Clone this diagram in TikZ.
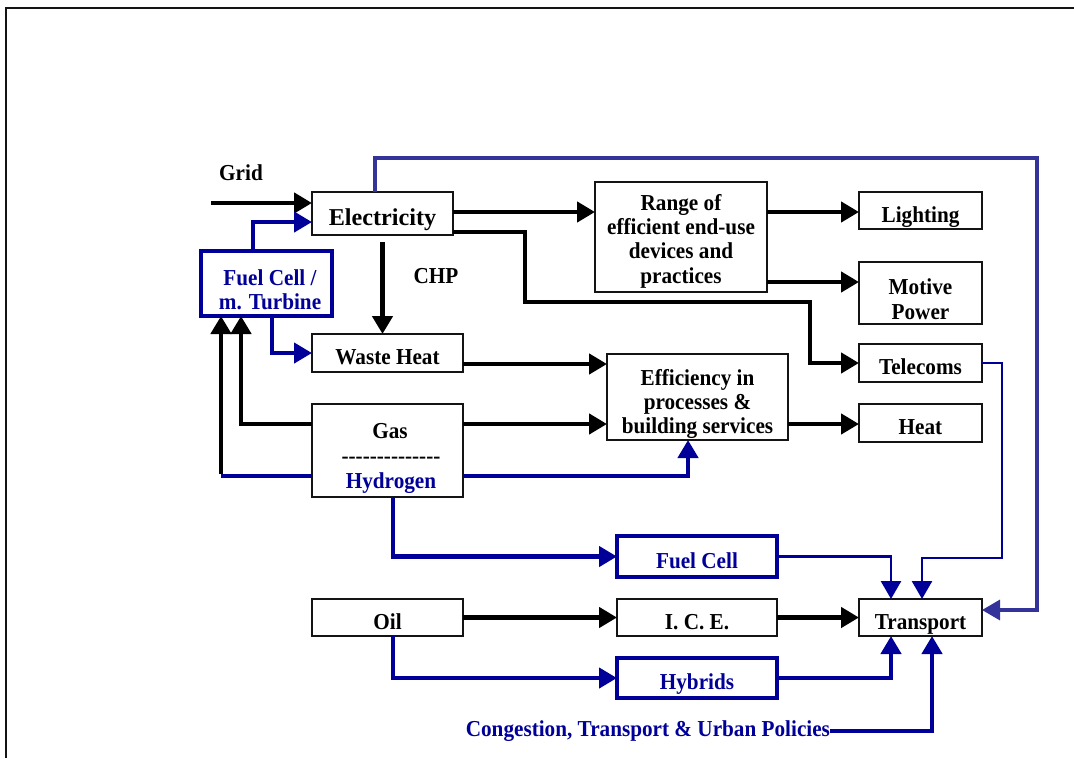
\documentclass[tikz,border=0pt]{standalone}
\usepackage{fontspec}
\setmainfont{Liberation Serif}[FakeStretch=0.93]
\newfontfamily\widefont{Liberation Serif}
\usetikzlibrary{arrows.meta}
\definecolor{navy}{RGB}{0,0,153}
\definecolor{slateblue}{RGB}{51,51,153}
\definecolor{ink}{RGB}{20,20,20}
% a hyphen that never joins its neighbour into a dash ligature
\newcommand{\hy}{-\kern0pt}
\begin{document}
\begin{tikzpicture}[x=1pt, y=-1pt,
  >={Triangle[length=18pt,width=20pt]},
  every node/.style={inner sep=0pt, outer sep=0pt,
    font=\bfseries\fontsize{22.8}{24.4}\selectfont},
  box/.style={draw=ink, line width=1.8pt, fill=white},
  bluebox/.style={draw=navy, line width=3.3pt, fill=white, text=navy},
  one/.style={text height=23pt, text depth=0pt},
  txt/.style={align=center},
  flow/.style={draw=black, line width=4.5pt, ->},
  hflow/.style={draw=navy, line width=4.3pt, ->},
  hline/.style={draw=navy, line width=4.3pt},
  tflow/.style={draw=navy, line width=2.7pt, ->},
  pflow/.style={draw=slateblue, line width=3.3pt, ->}
]
\useasboundingbox (0,0) rectangle (1074,758);

% page frame
\draw[ink, line width=2.5pt] (6,758) -- (6,8) -- (1074,8);

% boxes
\node[box, one, minimum width=141pt, minimum height=43pt,
      font=\widefont\bfseries\fontsize{24.2}{26}\selectfont] (elec) at (382.5,213.5) {Electricity};
\node[bluebox, minimum width=131pt, minimum height=65pt] (fcmt) at (266.5,283.5) {};
\node[box, minimum width=172pt, minimum height=110pt] (range) at (681,237) {};
\node[box, one, minimum width=123pt, minimum height=37pt] (light) at (920.5,210.5) {Lighting};
\node[box, minimum width=123pt, minimum height=62pt] (motive) at (920.5,293) {};
\node[box, one, minimum width=123pt, minimum height=38pt] (tele) at (920.5,363) {Telecoms};
\node[box, one, minimum width=123pt, minimum height=38pt] (heat) at (920.5,423) {Heat};
\node[box, one, minimum width=151pt, minimum height=38pt] (waste) at (387.5,353) {Waste Heat};
\node[box, minimum width=181pt, minimum height=86pt] (eff) at (697.5,397) {};
\node[box, minimum width=151pt, minimum height=93pt] (gas) at (387.5,450.5) {};
\node[bluebox, one, minimum width=160pt, minimum height=41pt] (fc) at (697,556.5) {Fuel Cell};
\node[box, one, minimum width=151pt, minimum height=37pt] (oil) at (387.5,617.5) {Oil};
\node[box, one, minimum width=160pt, minimum height=37pt] (ice) at (697,617.5) {I. C. E.};
\node[bluebox, one, minimum width=160pt, minimum height=40pt] (hyb) at (697,678) {Hybrids};
\node[box, one, minimum width=123pt, minimum height=37pt] (trans) at (920.5,617.5) {Transport};

% box texts
\node[txt, text=navy] (fcmttxt) at (270,289.5) {Fuel Cell /\\m. Turbine};
\node[txt] (rangetxt) at (681,241) {Range of\\efficient end-use\\devices and\\practices};
\node[txt] (motivetxt) at (920.5,299) {Motive\\Power};
\node[txt] (efftxt) at (697.5,404) {Efficiency in\\processes \&\\building services};
\node (gastxt) at (390,431) {Gas};
\node (gasrule) at (391,460) {\hy\hy\hy\hy\hy\hy\hy\hy\hy\hy\hy\hy\hy-};
\node[text=navy] (hydtxt) at (391,483) {Hydrogen};

% free labels
\node (gridlbl) at (241,173) {Grid};
\node (chplbl) at (436,276) {CHP};
\node[text=navy, anchor=east] (cong) at (830,731) {Congestion, Transport \& Urban Policies};
\coordinate (gridin) at (211,203);
\coordinate (hcorner) at (221,476);

% electricity supply
\draw[flow] (gridin) -- (gridin -| elec.west);
\draw[hflow] (253,0 |- fcmt.north) |- (elec.west |- 0,222);
\draw[pflow] (375,0 |- elec.north) |- (1037,158) |- (trans.east |- 0,610);
\draw[flow] (elec.east |- 0,212) -- (range.west |- 0,212);
\draw[flow] (elec.east |- 0,232) -| (525,302) -| (810,0 |- tele.west) -- (tele.west);
\draw[flow] ([yshift=-7pt]elec.south) -- (waste.north -| elec.south);

% end uses
\draw[flow] (range.east |- 0,212) -- (light.west |- 0,212);
\draw[flow] (range.east |- 0,282) -- (motive.west |- 0,282);
\draw[flow] (waste.east |- 0,364) -- (eff.west |- 0,364);
\draw[flow] (gas.east |- 0,424) -- (eff.west |- 0,424);
\draw[flow] (eff.east |- 0,424) -- (heat.west |- 0,424);

% gas and hydrogen
\draw[flow] (gas.west |- 0,424) -| (241,0 |- fcmt.south);
\draw[hline] (gas.west |- hcorner) -- (hcorner);
\draw[flow] ([yshift=2pt]hcorner) -- (hcorner |- fcmt.south);
\draw[hflow] (gas.east |- hcorner) -| (688,0 |- eff.south);
\draw[hflow] (272,0 |- fcmt.south) |- (waste.west);
\draw[hflow] (393,0 |- gas.south) |- (fc.west);

% transport
\draw[tflow] (fc.east) -| (891,0 |- trans.north);
\draw[tflow] (tele.east) -| (1002,558) -| (922,0 |- trans.north);
\draw[flow] (oil.east) -- (ice.west);
\draw[flow] (ice.east) -- (trans.west);
\draw[hflow] (393,0 |- oil.south) |- (hyb.west);
\draw[hflow] (hyb.east) -| (891,0 |- trans.south);
\draw[hflow] (cong.east) -| (932,0 |- trans.south);
\end{tikzpicture}
\end{document}
